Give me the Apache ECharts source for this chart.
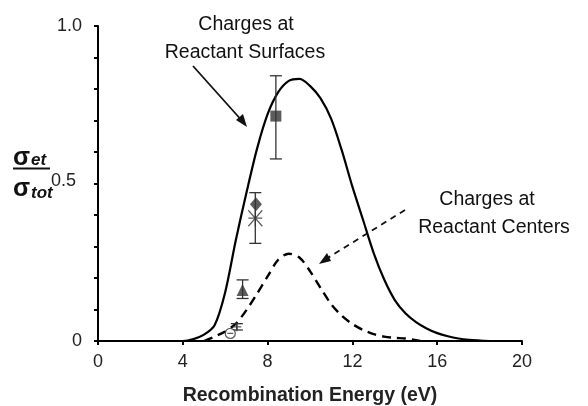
<!DOCTYPE html>
<html><head><meta charset="utf-8">
<script src="https://cdn.jsdelivr.net/npm/echarts@6/dist/echarts.min.js"></script>
<style>html,body{margin:0;padding:0;background:#fff}#c{width:588px;height:406px}</style>
</head><body><div id="c"></div>
<script>
// Solid curve: charges at reactant surfaces
var surfX = [3, 4, 4.5, 5, 5.5, 6, 6.5, 7, 7.5, 8, 8.5, 9, 9.5, 10, 10.5, 11, 11.5, 12, 12.5, 13, 13.5, 14, 14.5, 15, 15.5, 16, 16.5, 17, 17.5, 18.5];
var surfY = [0, 0, 0.006, 0.02, 0.05, 0.155, 0.32, 0.47, 0.61, 0.72, 0.79, 0.826, 0.832, 0.81, 0.77, 0.705, 0.605, 0.49, 0.385, 0.28, 0.195, 0.13, 0.088, 0.06, 0.04, 0.025, 0.015, 0.008, 0.004, 0];
// Dashed curve: charges at reactant centers
var centX = [5.0, 5.5, 6.0, 6.5, 7.0, 7.5, 8.0, 8.5, 9.0, 9.5, 10.0, 10.5, 11.0, 11.5, 12.0, 12.5, 13.0, 13.5, 14.0, 14.5, 15.2];
var centY = [0, 0.014, 0.03, 0.055, 0.098, 0.15, 0.205, 0.258, 0.277, 0.265, 0.222, 0.168, 0.117, 0.08, 0.054, 0.035, 0.022, 0.014, 0.01, 0.008, 0];
// Experimental points [x, y, errLow, errHigh]
var squarePt = [8.39, 0.714, 0.578, 0.842];
var diamondPt = [7.45, 0.434, 0.434, 0.434];
var crossPt = [7.42, 0.39, 0.31, 0.471];
var trianglePt = [6.82, 0.162, 0.135, 0.194];
var plusPt = [6.55, 0.045, 0.035, 0.055];
var circlePt = [6.24, 0.024, 0.024, 0.024];
var xTicks = [0, 4, 8, 12, 16, 20];
var yTickLabels = {0: '0', 0.5: '{m|0.5}', 1: '1.0'};

function zip(xs, ys){ return xs.map(function(x,i){return [x, ys[i]];}); }
var FONT = 'Liberation Sans, Arial, sans-serif';
var pts = [squarePt, crossPt, trianglePt, plusPt];

var chart = echarts.init(document.getElementById('c'), null, {renderer:'canvas'});
var xPath = 'path://M0,0 L10,10 M10,0 L0,10 M5,0 L5,10 M0,5 L10,5';
chart.setOption({
  animation:false,
  backgroundColor:'#fff',
  grid:{left:98, right:66, top:26, bottom:65, containLabel:false, outerBoundsMode:'none'},
  xAxis:{type:'value', min:0, max:20, interval:4,
    axisLine:{lineStyle:{color:'#000', width:2}},
    axisTick:{show:true, length:4, lineStyle:{color:'#000', width:2}},
    axisLabel:{color:'#222', fontSize:18, fontFamily:FONT, margin:12,
      formatter:function(v){ return xTicks.indexOf(v) >= 0 ? String(v) : ''; }},
    splitLine:{show:false},
    name:'Recombination Energy (eV)', nameLocation:'middle', nameGap:45,
    nameTextStyle:{color:'#222', fontSize:19.5, fontWeight:'bold', fontFamily:FONT}
  },
  yAxis:{type:'value', min:0, max:1, interval:0.1,
    axisLine:{show:true, lineStyle:{color:'#000', width:2}},
    axisTick:{show:true, length:4, lineStyle:{color:'#000', width:2}},
    axisLabel:{color:'#222', fontSize:18, fontFamily:FONT, margin:16,
      rich:{m:{fontSize:18, fontFamily:FONT, color:'#222', padding:[0,6,4,0]}},
      formatter:function(v){ var k = Math.round(v*10)/10; return yTickLabels[k] !== undefined ? yTickLabels[k] : ''; }},
    splitLine:{show:false}
  },
  series:[
    {type:'line', data:zip(surfX, surfY), smooth:0.3, showSymbol:false, z:3,
      lineStyle:{color:'#000', width:2.2}},
    {type:'line', data:zip(centX, centY), smooth:0.3, showSymbol:false, z:3,
      lineStyle:{color:'#000', width:2.4, type:[9,6]}},
    {type:'custom', z:4, data:pts.map(function(p){return [p[0], p[2], p[3]];}),
      renderItem:function(params, api){
        var lo = api.coord([api.value(0), api.value(1)]);
        var hi = api.coord([api.value(0), api.value(2)]);
        var w = 6;
        return {type:'group', children:[
          {type:'line', shape:{x1:lo[0], y1:lo[1], x2:hi[0], y2:hi[1]}, style:{stroke:'#333', lineWidth:1.3}},
          {type:'line', shape:{x1:lo[0]-w, y1:lo[1], x2:lo[0]+w, y2:lo[1]}, style:{stroke:'#333', lineWidth:1.3}},
          {type:'line', shape:{x1:hi[0]-w, y1:hi[1], x2:hi[0]+w, y2:hi[1]}, style:{stroke:'#333', lineWidth:1.3}}
        ]};
      }},
    {type:'scatter', z:5, data:[[squarePt[0], squarePt[1]]], symbol:'rect', symbolSize:11, itemStyle:{color:'#333'}},
    {type:'scatter', z:5, data:[[diamondPt[0], diamondPt[1]]], symbol:'diamond', symbolSize:[12,14], itemStyle:{color:'#333'}},
    {type:'scatter', z:5, data:[[crossPt[0], crossPt[1]]], symbol:xPath, symbolSize:[14,16], itemStyle:{color:'none', borderColor:'#333', borderWidth:1.3}},
    {type:'scatter', z:5, data:[[trianglePt[0], trianglePt[1]]], symbol:'triangle', symbolSize:[12,12], itemStyle:{color:'#333'}},
    {type:'scatter', z:5, data:[[plusPt[0], plusPt[1]]], symbol:'path://M0,5 L10,5 M5,0 L5,10', symbolSize:9, itemStyle:{color:'none', borderColor:'#333', borderWidth:1.3}},
    {type:'scatter', z:5, data:[[circlePt[0], circlePt[1]]], symbol:'path://M0,5 A5,5 0 1 1 10,5 A5,5 0 1 1 0,5 Z M2,5 L8,5', symbolSize:10, itemStyle:{color:'#fff', borderColor:'#333', borderWidth:1.3}}
  ],
  graphic:[
    {type:'text', x:246, y:25, style:{text:'Charges at', font:'19.5px '+FONT, fill:'#111', align:'center', verticalAlign:'middle'}},
    {type:'text', x:245, y:53, style:{text:'Reactant Surfaces', font:'19.5px '+FONT, fill:'#111', align:'center', verticalAlign:'middle'}},
    {type:'text', x:487, y:200, style:{text:'Charges at', font:'19.5px '+FONT, fill:'#111', align:'center', verticalAlign:'middle'}},
    {type:'text', x:494, y:228, style:{text:'Reactant Centers', font:'19.5px '+FONT, fill:'#111', align:'center', verticalAlign:'middle'}},
    {type:'line', shape:{x1:193, y1:66, x2:244, y2:123}, style:{stroke:'#111', lineWidth:1.8}},
    {type:'polygon', shape:{points:[[247,127],[236,120],[243,114]]}, style:{fill:'#111'}},
    {type:'line', shape:{x1:405, y1:210, x2:326, y2:259}, style:{stroke:'#111', lineWidth:1.8, lineDash:[6,5]}},
    {type:'polygon', shape:{points:[[319,264],[327,253],[331,261]]}, style:{fill:'#111'}},
    {type:'text', x:13, y:158, style:{text:'σ', font:'bold 25px '+FONT, fill:'#111', verticalAlign:'middle'}},
    {type:'text', x:31, y:160, style:{text:'et', font:'italic bold 17px '+FONT, fill:'#111', verticalAlign:'middle'}},
    {type:'line', shape:{x1:13, y1:168.5, x2:50, y2:168.5}, style:{stroke:'#111', lineWidth:2}},
    {type:'text', x:13, y:189, style:{text:'σ', font:'bold 25px '+FONT, fill:'#111', verticalAlign:'middle'}},
    {type:'text', x:31, y:193, style:{text:'tot', font:'italic bold 17px '+FONT, fill:'#111', verticalAlign:'middle'}}
  ]
});
</script></body></html>
